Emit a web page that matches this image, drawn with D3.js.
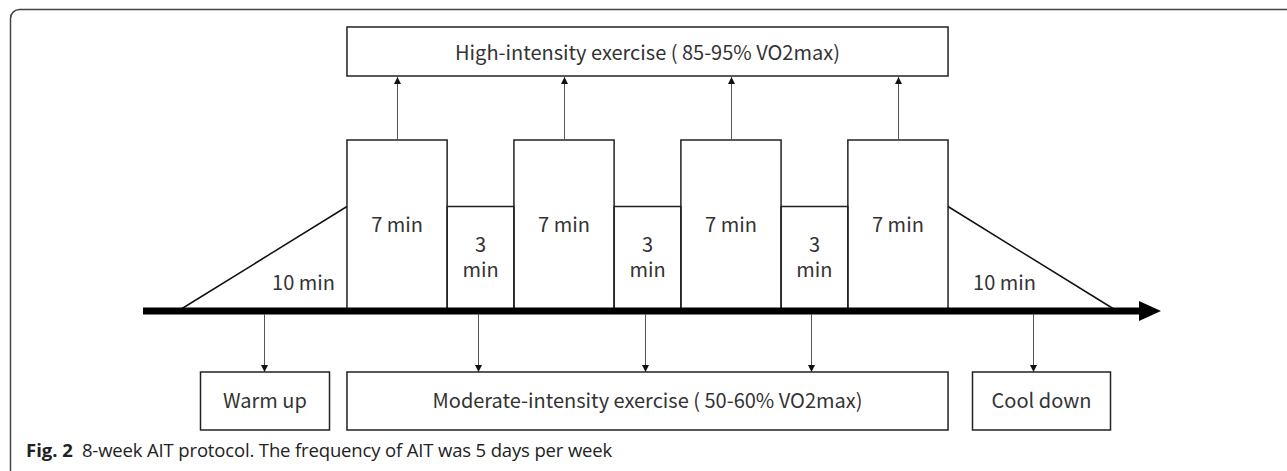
<!DOCTYPE html>
<html>
<head>
<meta charset="utf-8">
<script src="https://cdn.jsdelivr.net/npm/d3@7"></script>
<style>
body { margin: 0; background: #fff; }
</style>
</head>
<body>
<script>
const WIDTH = 1287;
const HEIGHT = 471;

// one session, left to right
const phases = ["warm", "high", "low", "high", "low", "high", "low", "high", "cool"];
const minutes = [10, 7, 3, 7, 3, 7, 3, 7, 10];
const intensity = [55, 90, 55, 90, 55, 90, 55, 90, 55]; // % VO2max at top of block / ramp peak

const topLabel = "High-intensity exercise ( 85-95% VO2max)";
const bottomLabels = ["Warm up", "Moderate-intensity exercise ( 50-60% VO2max)", "Cool down"];
const caption = ["Fig. 2", "8-week AIT protocol. The frequency of AIT was 5 days per week"];

const FONT = '"Noto Sans CJK SC", "Noto Sans", sans-serif';
const INK = '#333';
const FS = 20;

// schematic widths: ramps are wider than their minutes would say
const slot = p => p === "high" ? 1.5 : p === "low" ? 1 : 2.53;
const edges = [0];
phases.forEach((p, i) => edges.push(edges[i] + slot(p)));

const x = d3.scaleLinear().domain([0, edges[edges.length - 1]]).range([178, 1117]);
const y = d3.scaleLinear().domain([0, 90]).range([311, 140]);
const AXIS_Y = y(0);

const svg = d3.select('body')
    .append('svg')
    .attr('width', WIDTH)
    .attr('height', HEIGHT);

svg.append('rect')
    .attr('width', WIDTH).attr('height', HEIGHT)
    .attr('fill', '#fff');

// frame
svg.append('rect')
    .attr('x', 10.5).attr('y', 9.5)
    .attr('width', 1300).attr('height', 470)
    .attr('rx', 9)
    .attr('fill', 'none')
    .attr('stroke', '#444')
    .attr('stroke-width', 1.5);

const defs = svg.append('defs');
defs.append('marker')
    .attr('id', 'head')
    .attr('viewBox', '0 0 10 10')
    .attr('refX', 10).attr('refY', 5)
    .attr('markerWidth', 7).attr('markerHeight', 7)
    .attr('markerUnits', 'userSpaceOnUse')
    .attr('orient', 'auto')
    .append('path')
    .attr('d', 'M0,0L10,5L0,10Z')
    .attr('fill', '#111');

const blocks = phases.map((p, i) => ({
    phase: p, min: minutes[i], level: intensity[i],
    x0: x(edges[i]), x1: x(edges[i + 1])
}));

const g = svg.append('g');

// blocks and ramps
blocks.forEach(b => {
    if (b.phase === "warm" || b.phase === "cool") {
        const up = b.phase === "warm";
        g.append('path')
            .attr('d', d3.line()([
                [up ? b.x0 : b.x1, AXIS_Y],
                [up ? b.x1 : b.x0, y(b.level)]
            ]))
            .attr('fill', 'none')
            .attr('stroke', '#111')
            .attr('stroke-width', 1.5);
        g.append('text')
            .attr('x', up ? b.x1 - 12 : b.x0 + 25)
            .attr('y', 290)
            .attr('text-anchor', up ? 'end' : 'start')
            .attr('font-family', FONT)
            .attr('font-size', FS)
            .attr('fill', INK)
            .text(b.min + ' min');
    } else {
        g.append('rect')
            .attr('x', b.x0).attr('y', y(b.level))
            .attr('width', b.x1 - b.x0).attr('height', AXIS_Y - y(b.level))
            .attr('fill', 'none')
            .attr('stroke', '#222')
            .attr('stroke-width', 1.5);
        const cx = (b.x0 + b.x1) / 2;
        if (b.phase === "high") {
            g.append('text')
                .attr('x', cx).attr('y', 232)
                .attr('text-anchor', 'middle')
                .attr('font-family', FONT)
                .attr('font-size', FS)
                .attr('fill', INK)
                .text(b.min + ' min');
        } else {
            const t = g.append('text')
                .attr('text-anchor', 'middle')
                .attr('font-family', FONT)
                .attr('font-size', FS)
                .attr('fill', INK);
            t.append('tspan').attr('x', cx).attr('y', 252).text(b.min);
            t.append('tspan').attr('x', cx).attr('y', 277).text('min');
        }
    }
});

// time axis
g.append('rect')
    .attr('x', 143).attr('y', AXIS_Y - 3.5)
    .attr('width', 1141 - 143).attr('height', 7)
    .attr('fill', '#000');
g.append('path')
    .attr('d', `M1139,${AXIS_Y - 10}L1161,${AXIS_Y}L1139,${AXIS_Y + 10}Z`)
    .attr('fill', '#000');

const highs = blocks.filter(b => b.phase === "high");
const lows = blocks.filter(b => b.phase === "low");
const warm = blocks[0], cool = blocks[blocks.length - 1];
const spanX0 = highs[0].x0, spanX1 = highs[highs.length - 1].x1;

// top box
g.append('rect')
    .attr('x', spanX0).attr('y', 27)
    .attr('width', spanX1 - spanX0).attr('height', 49)
    .attr('fill', 'none').attr('stroke', '#222').attr('stroke-width', 1.5);
g.append('text')
    .attr('x', (spanX0 + spanX1) / 2).attr('y', 60)
    .attr('text-anchor', 'middle')
    .attr('font-family', FONT).attr('font-size', FS)
    .attr('fill', INK)
    .text(topLabel);

highs.forEach(b => {
    const cx = Math.round((b.x0 + b.x1) / 2) + 0.5;
    g.append('line')
        .attr('x1', cx).attr('x2', cx)
        .attr('y1', y(b.level)).attr('y2', 77)
        .attr('stroke', '#555').attr('stroke-width', 1)
        .attr('marker-end', 'url(#head)');
});

// bottom boxes
const warmX = Math.round((warm.x0 + warm.x1) / 2) + 2.5;
const coolX = Math.round((cool.x0 + cool.x1) / 2) + 0.5;
const bottomBoxes = [
    { label: bottomLabels[0], x0: warmX - 64, x1: warmX + 65, arrows: [warmX] },
    { label: bottomLabels[1], x0: spanX0, x1: spanX1,
      arrows: lows.map(b => Math.round((b.x0 + b.x1) / 2) - 2.5) },
    { label: bottomLabels[2], x0: coolX - 61, x1: coolX + 77, arrows: [coolX] }
];

bottomBoxes.forEach(bx => {
    g.append('rect')
        .attr('x', bx.x0).attr('y', 372)
        .attr('width', bx.x1 - bx.x0).attr('height', 58)
        .attr('fill', 'none').attr('stroke', '#222').attr('stroke-width', 1.5);
    g.append('text')
        .attr('x', (bx.x0 + bx.x1) / 2).attr('y', 408)
        .attr('text-anchor', 'middle')
        .attr('font-family', FONT).attr('font-size', FS)
        .attr('fill', INK)
        .text(bx.label);
    bx.arrows.forEach(ax => {
        g.append('line')
            .attr('x1', ax).attr('x2', ax)
            .attr('y1', AXIS_Y + 3).attr('y2', 372)
            .attr('stroke', '#555').attr('stroke-width', 1)
            .attr('marker-end', 'url(#head)');
    });
});

// caption
const cap = svg.append('text')
    .attr('x', 26).attr('y', 457)
    .attr('font-family', '"Open Sans", sans-serif')
    .attr('font-size', 18.5)
    .attr('fill', '#222');
cap.append('tspan').attr('font-weight', 'bold').text(caption[0]);
cap.append('tspan').attr('dx', 9).attr('letter-spacing', -0.15).text(caption[1]);
</script>
</body>
</html>
